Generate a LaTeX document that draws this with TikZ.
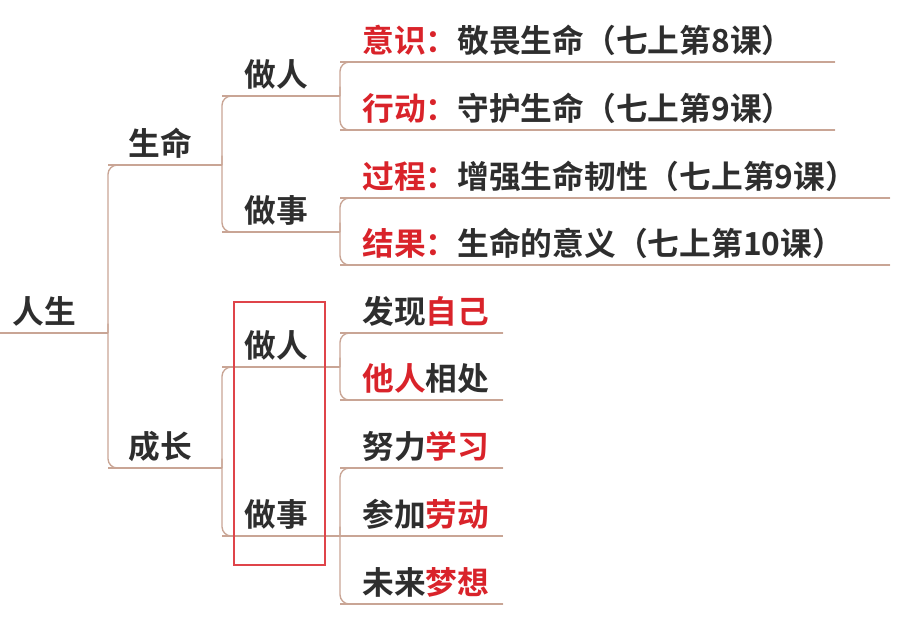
\documentclass[tikz,border=0pt]{standalone}
\usepackage{fontspec}
\newfontfamily\cjk{Noto Sans CJK SC}[BoldFont={Noto Sans CJK SC Bold}]
\definecolor{ln}{HTML}{C9A595}
\definecolor{rd}{HTML}{D9232A}
\definecolor{tx}{HTML}{2E2E2E}
\begin{document}
\begin{tikzpicture}[x=0.75pt,y=-0.75pt,
  lbl/.style={anchor=south west,inner sep=0pt,font=\cjk\bfseries\fontsize{23.8}{24}\selectfont,text=tx},
  conn/.style={draw=ln,line width=1pt,rounded corners=7pt}]
\useasboundingbox (0,0) rectangle (912,618);
\coordinate (r0) at (0,333); \coordinate (r1) at (108,333);
\coordinate (a0) at (108,165); \coordinate (a1) at (222,165);
\coordinate (b0) at (108,468); \coordinate (b1) at (222,468);
\coordinate (a10) at (222,96); \coordinate (a11) at (340,96);
\coordinate (a20) at (222,232); \coordinate (a21) at (340,232);
\coordinate (b10) at (222,367); \coordinate (b11) at (340,367);
\coordinate (b20) at (222,536); \coordinate (b21) at (340,536);
\coordinate (l1) at (340,62); \coordinate (l1e) at (835,62);
\coordinate (l2) at (340,130); \coordinate (l2e) at (835,130);
\coordinate (l3) at (340,198); \coordinate (l3e) at (890,198);
\coordinate (l4) at (340,265); \coordinate (l4e) at (890,265);
\coordinate (m1) at (340,333); \coordinate (m1e) at (503,333);
\coordinate (m2) at (340,400); \coordinate (m2e) at (503,400);
\coordinate (m3) at (340,468); \coordinate (m3e) at (503,468);
\coordinate (m4) at (340,536); \coordinate (m4e) at (503,536);
\coordinate (m5) at (340,604); \coordinate (m5e) at (503,604);
\foreach \s/\e in {r0/r1,a0/a1,b0/b1,a10/a11,a20/a21,b10/b11,b20/b21,l1/l1e,l2/l2e,l3/l3e,l4/l4e,m1/m1e,m2/m2e,m3/m3e,m4/m4e,m5/m5e}
  \draw[draw=ln,line width=1pt] (\s) -- (\e);
\draw[conn] (a1) -- (a0) |- (r1);
\draw[conn] (r1) -- (b0|-r1) |- (b1);
\draw[conn] (a11) -- (a10) |- (a1);
\draw[conn] (a1) -- (a20|-a1) |- (a21);
\draw[conn] (l1e) -- (l1) |- (a11);
\draw[conn] (a11) -- (l2|-a11) |- (l2e);
\draw[conn] (l3e) -- (l3) |- (a21);
\draw[conn] (a21) -- (l4|-a21) |- (l4e);
\draw[conn] (b11) -- (b10) |- (b1);
\draw[conn] (b1) -- (b20|-b1) |- (b21);
\draw[conn] (m1e) -- (m1) |- (b11);
\draw[conn] (b11) -- (m2|-b11) |- (m2e);
\draw[conn] (m3e) -- (m3) |- (b21);
\draw[conn] (m4e) -- (m4);
\draw[conn] (b21) -- (m5|-b21) |- (m5e);
\node[lbl] (t0) at ([shift={(12,-6)}]r0) {人生};
\node[lbl] (ta) at ([shift={(20,-6)}]a0) {生命};
\node[lbl] (tb) at ([shift={(20,-6)}]b0) {成长};
\node[lbl] (ta1) at ([shift={(22,-6)}]a10) {做人};
\node[lbl] (ta2) at ([shift={(22,-6)}]a20) {做事};
\node[lbl] (tb1) at ([shift={(22,-6)}]b10) {做人};
\node[lbl] (tb2) at ([shift={(22,-6)}]b20) {做事};
\node[lbl] (t1) at ([shift={(22,-6)}]l1) {\textcolor{rd}{意识：}敬畏生命（七上第8课）};
\node[lbl] (t2) at ([shift={(22,-6)}]l2) {\textcolor{rd}{行动：}守护生命（七上第9课）};
\node[lbl] (t3) at ([shift={(22,-6)}]l3) {\textcolor{rd}{过程：}增强生命韧性（七上第9课）};
\node[lbl] (t4) at ([shift={(22,-6)}]l4) {\textcolor{rd}{结果：}生命的意义（七上第10课）};
\node[lbl] (u1) at ([shift={(22,-6)}]m1) {发现\textcolor{rd}{自己}};
\node[lbl] (u2) at ([shift={(22,-6)}]m2) {\textcolor{rd}{他人}相处};
\node[lbl] (u3) at ([shift={(22,-6)}]m3) {努力\textcolor{rd}{学习}};
\node[lbl] (u4) at ([shift={(22,-6)}]m4) {参加\textcolor{rd}{劳动}};
\node[lbl] (u5) at ([shift={(22,-6)}]m5) {未来\textcolor{rd}{梦想}};
\node[draw=rd!85,line width=1.6pt,inner sep=0pt,minimum width=91*0.75pt,minimum height=263*0.75pt] (box) at (279.5,433.5) {};
\end{tikzpicture}
\end{document}
